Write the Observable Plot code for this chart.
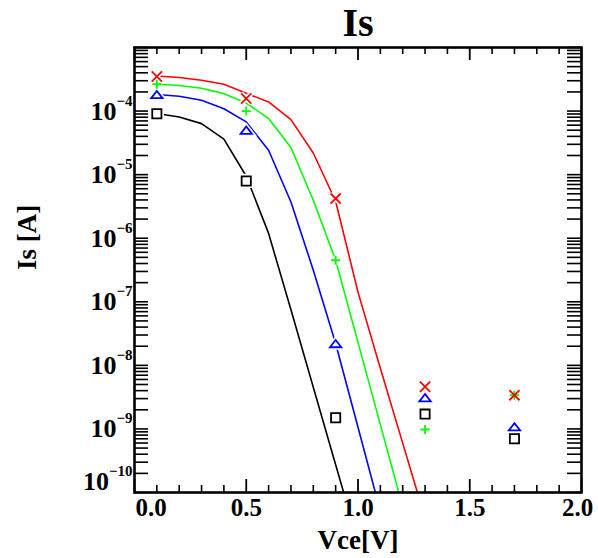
<!DOCTYPE html>
<html>
<head>
<meta charset="utf-8">
<script src="https://cdn.jsdelivr.net/npm/d3@7"></script>
<script src="https://cdn.jsdelivr.net/npm/@observablehq/plot@0.6"></script>
<style>
  html, body { margin: 0; padding: 0; background: #fff; }
</style>
</head>
<body>
<div id="chart"></div>
<script>
// ---------- data ----------
const chartTitle = "Is";
const xTitle = "Vce[V]";
const yTitle = "Is [A]";

// measured points (markers)
const vceMeas = [0.1, 0.5, 0.9, 1.3, 1.7];
const isMeasRed   = [3.5e-4, 1.58e-4, 4.2e-6, 4.6e-9, 3.4e-9];
const isMeasGreen = [2.64e-4, 1.0e-4, 4.5e-7, 9.8e-10, 3.4e-9];
const isMeasBlue  = [1.82e-4, 5.0e-5, 2.2e-8, 3.1e-9, 1.08e-9];
const isMeasBlack = [9.1e-5, 7.96e-6, 1.5e-9, 1.71e-9, 7.0e-10];

// simulated curves (lines)
const vceSim = [0.1, 0.2, 0.3, 0.4, 0.5, 0.6, 0.7, 0.8, 0.9, 1.0, 1.1, 1.2, 1.3];
const isSimRed   = [3.56e-4, 3.37e-4, 3.05e-4, 2.64e-4, 1.91e-4, 1.39e-4, 7.35e-5, 2.19e-5, 3.82e-6, 1.42e-7, 9.0e-9, 5.98e-10, 3.96e-11];
const isSimGreen = [2.64e-4, 2.52e-4, 2.28e-4, 1.88e-4, 1.34e-4, 7.62e-5, 2.67e-5, 3.95e-6, 4.5e-7, 2.3e-8, 1.17e-9, 5.96e-11];
const isSimBlue  = [1.82e-4, 1.71e-4, 1.48e-4, 1.09e-4, 6.75e-5, 2.42e-5, 3.72e-6, 3.14e-7, 2.21e-8, 1.06e-9, 5.08e-11];
const isSimBlack = [9.14e-5, 8.07e-5, 6.35e-5, 3.61e-5, 9.44e-6, 1.19e-6, 7.48e-8, 4.53e-9, 2.74e-10, 1.66e-11];

// ticks
const xMajorTicks = [0.0, 0.5, 1.0, 1.5, 2.0];
const xMinorTicks = [0.1, 0.2, 0.3, 0.4, 0.6, 0.7, 0.8, 0.9, 1.1, 1.2, 1.3, 1.4, 1.6, 1.7, 1.8, 1.9];
const xTickLabels = ["0.0", "0.5", "1.0", "1.5", "2.0"];
const yDecades = [-10, -9, -8, -7, -6, -5, -4, -3];
const yMinorMultipliers = [2, 3, 4, 5, 6, 7, 8, 9];
const yLabelExponents = [-10, -9, -8, -7, -6, -5, -4];

// ---------- layout ----------
const W = 598, H = 558;
const mL = 134, mR = 17, mT = 47, mB = 66;
const frameW = W - mL - mR, frameH = H - mT - mB;
const FONT = "'Liberation Serif', 'Times New Roman', serif";

const yTicks = [];
for (const e of yDecades) {
  yTicks.push(Math.pow(10, e));
  if (e < -3) for (const m of yMinorMultipliers) yTicks.push(m * Math.pow(10, e));
}

// custom marker shapes
const symTimes = {draw(c, size) { const r = Math.sqrt(size / Math.PI); c.moveTo(-r, -r); c.lineTo(r, r); c.moveTo(-r, r); c.lineTo(r, -r); }};
const symPlus = {draw(c, size) { const r = Math.sqrt(size / Math.PI); c.moveTo(-r, 0); c.lineTo(r, 0); c.moveTo(0, -r); c.lineTo(0, r); }};
const symSquare = {draw(c, size) { const r = Math.sqrt(size / Math.PI); c.moveTo(-r, -r); c.lineTo(r, -r); c.lineTo(r, r); c.lineTo(-r, r); c.closePath(); }};
const symTri = {draw(c, size) { const r = Math.sqrt(size / Math.PI); const h = 0.64 * r; c.moveTo(-r, h); c.lineTo(r, h); c.lineTo(0, -h); c.closePath(); }};

const series = [
  {sim: isSimBlack, meas: isMeasBlack, color: "#000000", sym: symSquare, r: 4.6, fill: "white"},
  {sim: isSimBlue,  meas: isMeasBlue,  color: "#0000ff", sym: symTri,    r: 5.7, fill: "white"},
  {sim: isSimGreen, meas: isMeasGreen, color: "#00ff00", sym: symPlus,   r: 4.5, fill: "none"},
  {sim: isSimRed,   meas: isMeasRed,   color: "#ff0000", sym: symTimes,  r: 5.1, fill: "none"}
];

// measure superscript widths
const cnv = document.createElement("canvas").getContext("2d");
const supSize = 15, manSize = 26;
cnv.font = `bold ${supSize}px 'Liberation Serif'`;
const supText = e => "\u2212" + String(-e);
const supW1 = cnv.measureText(supText(-4)).width;
const supW2 = cnv.measureText(supText(-10)).width;

const lineMarks = series.map(s => Plot.line(
  s.sim.map((v, i) => ({x: vceSim[i], y: v})),
  {x: "x", y: "y", stroke: s.color, strokeWidth: 1.6, clip: true}
));
const measData = s => s.meas.map((v, i) => ({x: vceMeas[i], y: v}));
const haloMarks = series.map(s => Plot.dot(measData(s), {x: "x", y: "y", symbol: s.sym, r: s.r, stroke: "white", strokeWidth: 5, fill: "white"}));
const dotMarks = series.map(s => Plot.dot(measData(s), {x: "x", y: "y", symbol: s.sym, r: s.r, stroke: s.color, strokeWidth: 1.8, fill: s.fill}));

const xLab = xMajorTicks.map((v, i) => ({v, t: xTickLabels[i]}));
const yLabSingle = yLabelExponents.filter(e => e > -10);
const yLabDouble = yLabelExponents.filter(e => e <= -10);

const textBase = {fontFamily: FONT, fontWeight: "bold", fill: "black"};

const chart = Plot.plot({
  width: W, height: H,
  marginLeft: mL, marginRight: mR, marginTop: mT, marginBottom: mB,
  style: {fontFamily: FONT, background: "white", overflow: "visible"},
  x: {domain: [0, 2], axis: null, label: null},
  y: {type: "log", domain: [1e-10, 1e-3], axis: null, label: null},
  marks: [
    ...lineMarks,
    ...haloMarks,
    ...dotMarks,
    // x ticks bottom & top
    Plot.ruleX(xMinorTicks, {x: d => d, insetTop: frameH - 7, stroke: "black", strokeWidth: 1.6}),
    Plot.ruleX(xMinorTicks, {x: d => d, insetBottom: frameH - 7, stroke: "black", strokeWidth: 1.6}),
    Plot.ruleX(xMajorTicks, {x: d => d, insetTop: frameH - 13, stroke: "black", strokeWidth: 1.8}),
    Plot.ruleX(xMajorTicks, {x: d => d, insetBottom: frameH - 13, stroke: "black", strokeWidth: 1.8}),
    // y ticks left & right
    Plot.ruleY(yTicks, {y: d => d, insetRight: frameW - 14, stroke: "black", strokeWidth: 1.6}),
    Plot.ruleY(yTicks, {y: d => d, insetLeft: frameW - 14, stroke: "black", strokeWidth: 1.6}),
    Plot.frame({stroke: "black", strokeWidth: 2.6}),
    // x tick labels
    Plot.text(xLab.filter((d, i) => i > 0 && i < xLab.length - 1), {x: "v", text: "t", frameAnchor: "bottom", lineAnchor: "bottom", dy: 23, fontSize: 25, ...textBase}),
    Plot.text(xLab.filter((d, i) => i === 0), {x: "v", text: "t", frameAnchor: "bottom", lineAnchor: "bottom", textAnchor: "start", dy: 23, dx: 1, fontSize: 25, ...textBase}),
    Plot.text(xLab.filter((d, i) => i === xLab.length - 1), {x: "v", text: "t", frameAnchor: "bottom", lineAnchor: "bottom", dy: 23, dx: -4, fontSize: 25, ...textBase}),
    // y tick labels
    Plot.text(yLabSingle, {y: e => Math.pow(10, e), text: () => "10", frameAnchor: "left", textAnchor: "end", lineAnchor: "bottom", dx: -2 - supW1, dy: 8.5, fontSize: manSize, ...textBase}),
    Plot.text(yLabSingle, {y: e => Math.pow(10, e), text: supText, frameAnchor: "left", textAnchor: "end", lineAnchor: "bottom", dx: -2, dy: -5.5, fontSize: supSize, ...textBase}),
    Plot.text(yLabDouble, {y: e => Math.pow(10, e), text: () => "10", frameAnchor: "left", textAnchor: "end", lineAnchor: "bottom", dx: -2 - supW2, dy: 8.5 - 11.5, fontSize: manSize, ...textBase}),
    Plot.text(yLabDouble, {y: e => Math.pow(10, e), text: supText, frameAnchor: "left", textAnchor: "end", lineAnchor: "bottom", dx: -2, dy: -5.5 - 11.5, fontSize: supSize, ...textBase}),
    // titles
    Plot.text([chartTitle], {text: d => d, frameAnchor: "top", lineAnchor: "bottom", dy: -12, fontSize: 40, ...textBase}),
    Plot.text([xTitle], {text: d => d, frameAnchor: "bottom", lineAnchor: "bottom", dy: 56, fontSize: 27, ...textBase}),
    Plot.text([yTitle], {text: d => d, frameAnchor: "left", lineAnchor: "bottom", rotate: -90, dx: -98.5, fontSize: 27, ...textBase})
  ]
});
document.getElementById("chart").appendChild(chart);
</script>
</body>
</html>
